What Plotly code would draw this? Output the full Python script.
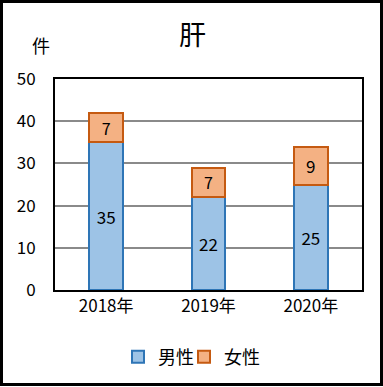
import plotly.graph_objects as go

categories = ["2018年", "2019年", "2020年"]
male = [35, 22, 25]
female = [7, 7, 9]
y_ticks = [0, 10, 20, 30, 40, 50]

W, H = 383, 387
L, R, T, B = 55, 21, 79, 97
pw, ph = W - L - R, H - T - B

font = "Noto Sans CJK JP"

fig = go.Figure()
fig.add_trace(go.Bar(
    x=categories, y=male, name="男性", legend="legend",
    marker=dict(color="#9DC3E6", line=dict(color="#2E75B6", width=2)),
    text=male, textposition="inside", insidetextanchor="middle", textangle=0,
    textfont=dict(size=17, color="black", family=font),
))
fig.add_trace(go.Bar(
    x=categories, y=female, name="女性", legend="legend2",
    marker=dict(color="#F4B183", line=dict(color="#C55A11", width=2)),
    text=female, textposition="inside", insidetextanchor="middle", textangle=0,
    textfont=dict(size=17, color="black", family=font),
))

leg_y = -(357 - T - ph) / ph
leg_common = dict(orientation="h", xanchor="left", y=leg_y, yanchor="middle",
                  font=dict(size=18), itemwidth=30, bgcolor="rgba(0,0,0,0)")

fig.update_layout(
    width=W, height=H,
    barmode="stack", bargap=0.67,
    margin=dict(l=L, r=R, t=T, b=B, pad=0),
    paper_bgcolor="white", plot_bgcolor="white",
    font=dict(family=font, size=17, color="black"),
    title=dict(text="肝", x=192.5 / W, xanchor="center", y=1 - 36 / H, yanchor="middle",
               font=dict(size=27, family=font)),
    showlegend=True,
    legend=dict(x=(118 - L) / pw, **leg_common),
    legend2=dict(x=(184 - L) / pw, **leg_common),
    uniformtext=dict(mode=False),
)
fig.update_xaxes(showline=True, linecolor="black", linewidth=2, mirror=True,
                 ticks="", tickfont=dict(size=17), showgrid=False)
fig.update_yaxes(range=[0, 50], tickvals=y_ticks, showline=True, linecolor="black",
                 linewidth=2, mirror=True, showgrid=True, gridcolor="#8a8a8a",
                 gridwidth=2, ticks="", tickfont=dict(size=17), zeroline=False,
                 ticklabelstandoff=14)
fig.add_annotation(text="件", xref="paper", yref="paper",
                   x=(41 - L) / pw, y=1 + (T - 45) / ph, showarrow=False,
                   xanchor="center", yanchor="middle", font=dict(size=18))
fig.add_shape(type="rect", xref="paper", yref="paper",
              x0=-(L - 1.5) / pw, x1=1 + (R - 1.5) / pw,
              y0=-(B - 2.5) / ph, y1=1 + (T - 1.5) / ph,
              line=dict(color="black", width=3), layer="above")

fig.write_html("out.html", config={"displayModeBar": False},
               post_script="document.body.style.margin='0';document.body.style.overflow='hidden';")
